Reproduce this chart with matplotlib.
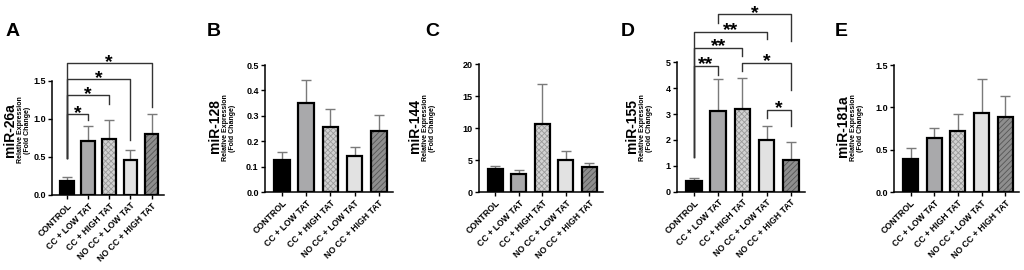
import matplotlib
matplotlib.use("Agg")
import matplotlib.pyplot as plt
import numpy as np

plt.rcParams['font.family'] = ['Liberation Sans', 'DejaVu Sans']
plt.rcParams['font.weight'] = 'bold'
plt.rcParams['hatch.linewidth'] = 0.6

# groupes et valeurs
groupes = ['CONTROL', 'CC + LOW TAT', 'CC + HIGH TAT', 'NO CC + LOW TAT', 'NO CC + HIGH TAT']

mir26a_moy = [0.18, 0.71, 0.74, 0.46, 0.80]
mir26a_err = [0.05, 0.20, 0.25, 0.13, 0.26]
mir128_moy = [0.126, 0.352, 0.255, 0.144, 0.242]
mir128_err = [0.032, 0.088, 0.072, 0.035, 0.060]
mir144_moy = [3.6, 2.8, 10.7, 5.0, 3.9]
mir144_err = [0.5, 0.6, 6.2, 1.4, 0.7]
mir155_moy = [0.42, 3.12, 3.21, 2.00, 1.23]
mir155_err = [0.10, 1.23, 1.20, 0.53, 0.68]
mir181a_moy = [0.39, 0.64, 0.72, 0.93, 0.89]
mir181a_err = [0.13, 0.12, 0.20, 0.40, 0.24]

noms = ['miR-26a', 'miR-128', 'miR-144', 'miR-155', 'miR-181a']
lettres = ['A', 'B', 'C', 'D', 'E']
ticks_y = [[0, 0.5, 1.0, 1.5],
           [0, 0.1, 0.2, 0.3, 0.4, 0.5],
           [0, 5, 10, 15, 20],
           [0, 1, 2, 3, 4, 5],
           [0, 0.5, 1.0, 1.5]]
format_y = ['{:.1f}', '{:.1f}', '{:d}', '{:d}', '{:.1f}']

# crochets de significativité : (i, j, hauteur, bas gauche, bas droite, texte)
crochets_A = [(0, 1, 1.06, 0.48, 0.98, '*'),
              (0, 2, 1.31, 0.48, 1.20, '*'),
              (0, 3, 1.52, 0.48, 0.72, '*'),
              (0, 4, 1.73, 0.48, 1.16, '*')]
crochets_D = [(0, 1, 4.86, 1.35, 4.52, '**'),
              (0, 2, 5.57, 1.35, 5.23, '**'),
              (0, 3, 6.17, 1.35, 5.90, '**'),
              (1, 4, 6.86, 6.52, 5.81, '*'),
              (2, 4, 4.97, 4.67, 3.94, '*'),
              (3, 4, 3.16, 2.84, 2.52, '*')]

moyennes = [mir26a_moy, mir128_moy, mir144_moy, mir155_moy, mir181a_moy]
erreurs = [mir26a_err, mir128_err, mir144_err, mir155_err, mir181a_err]
crochets = [crochets_A, [], [], crochets_D, []]

# mise en page, en pixels : gauche, haut, droite, bas
boites = [(52, 80.7, 164, 195),
          (265, 65, 393, 192.3),
          (479, 64, 603, 192.3),
          (677, 62.3, 805, 191.7),
          (894, 65, 1019, 192.3)]
pos_nom = [(10, 130), (215, 126), (415, 126), (632, 126), (843, 126)]
pos_rel = [(24, 130), (229, 128), (429, 128), (646, 128), (857, 128)]
pos_lettre = [(13, 31), (214, 31), (432, 31), (628, 31), (841, 31)]

remplissage = ['black', '#a9a9ab', '#d2d2d2', '#e2e2e2', '#8e8e8e']
hachures = [None, None, 'xxxxxx', None, '//////']
couleur_hach = [None, None, '#9a9a9a', None, '#555555']

W, H = 1024, 270
fig = plt.figure(figsize=(W/100, H/100), dpi=100)


def px(x, y) :
	return x/W, 1 - y/H


for k in range(5) :
	g, t, d, b = boites[k]
	ax = fig.add_axes([g/W, 1 - b/H, (d - g)/W, (b - t)/H])
	x = np.arange(len(groupes))
	moy = np.array(moyennes[k])
	err = np.array(erreurs[k])

	ax.errorbar(x, moy, yerr=[np.zeros_like(err), err], fmt='none', ecolor='#7a7a7a',
	            elinewidth=1.0, capsize=3.5, capthick=1.0, zorder=1)
	for i in range(len(x)) :
		if hachures[i] :
			plt.rcParams['hatch.color'] = couleur_hach[i]
			ax.bar(x[i], moy[i], width=0.64, color=remplissage[i], hatch=hachures[i],
			       edgecolor=couleur_hach[i], linewidth=0, zorder=2)
		else :
			ax.bar(x[i], moy[i], width=0.64, color=remplissage[i], linewidth=0, zorder=2)
		ax.bar(x[i], moy[i], width=0.64, fill=False, edgecolor='black', linewidth=1.6, zorder=3)

	ax.set_xlim(-0.7, 4.58)
	ax.set_ylim(0, ticks_y[k][-1])
	ax.set_yticks(ticks_y[k])
	ax.set_yticklabels([format_y[k].format(v) for v in ticks_y[k]], fontsize=6.5, fontweight='bold')
	ax.set_xticks(x)
	ax.set_xticklabels(groupes, rotation=45, ha='right', rotation_mode='anchor',
	                   fontsize=6.3, fontweight='bold')
	for s in ['top', 'right'] :
		ax.spines[s].set_visible(False)
	for s in ['left', 'bottom'] :
		ax.spines[s].set_linewidth(1.1)
	ax.tick_params(length=3, width=1.0, pad=1.5)
	ax.set_facecolor('none')

	for i, j, h, bg, bd, txt in crochets[k] :
		ax.plot([x[i], x[i], x[j], x[j]], [bg, h, h, bd], color='#333333', lw=1.0,
		        clip_on=False, zorder=4)
		ax.annotate(txt, xy=((x[i] + x[j])/2, h), xytext=(0, -2.5), textcoords='offset points',
		            ha='center', va='baseline', fontsize=14, fontweight='bold', annotation_clip=False)

	fig.text(*px(*pos_nom[k]), noms[k], rotation=90, ha='center', va='center',
	         fontsize=10, fontweight='bold')
	fig.text(*px(*pos_rel[k]), 'Relative Expression\n(Fold Change)', rotation=90,
	         ha='center', va='center', fontsize=5, fontweight='bold', linespacing=0.85)
	fig.text(*px(*pos_lettre[k]), lettres[k], ha='center', va='center', fontsize=14,
	         fontweight='bold')

fig.savefig('out.png', dpi=100)
